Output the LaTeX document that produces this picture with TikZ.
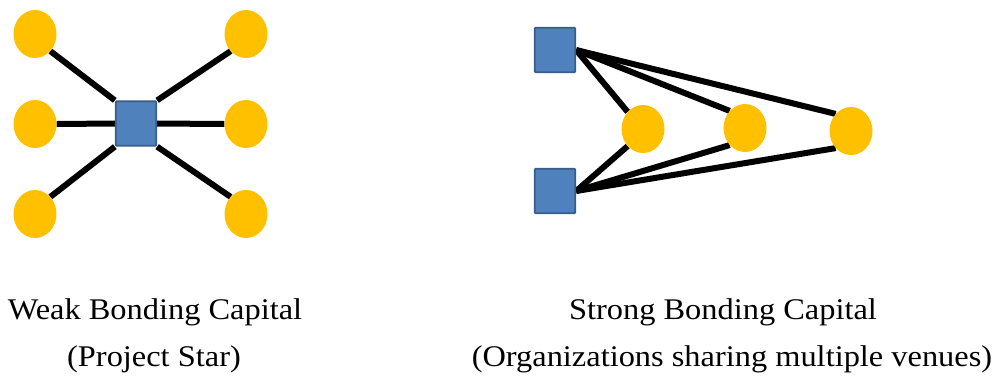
\documentclass[tikz,border=0pt]{standalone}
\usepackage{fontspec}
\setmainfont{Liberation Serif}
\usetikzlibrary{shapes.geometric,backgrounds}
\definecolor{gold}{HTML}{FFC000}
\definecolor{bluefill}{HTML}{4F81BD}
\definecolor{blueline}{HTML}{385D8A}
\tikzset{
  dot/.style={ellipse, fill=gold, draw=none, minimum width=43bp, minimum height=48bp, inner sep=0pt},
  sq/.style={rectangle, fill=bluefill, draw=blueline, line width=1.8bp, rounded corners=1bp, minimum width=40.5bp, minimum height=44.5bp, inner sep=0pt},
  link/.style={line width=6bp, black},
  lbl/.style={font=\fontsize{30bp}{34bp}\selectfont, inner sep=0pt, anchor=base}
}
\newcommand{\wide}[1]{\scalebox{1.08}[1]{#1}}
\begin{document}
\begin{tikzpicture}[x=1bp,y=-1bp]
\useasboundingbox (0,0) rectangle (1001,378);
% left star
\node[dot] (l1) at (35,34) {};
\node[dot] (l2) at (35,124) {};
\node[dot] (l3) at (35,214) {};
\node[dot] (r1) at (246,34) {};
\node[dot] (r2) at (246,124) {};
\node[dot] (r3) at (246,214) {};
\node[sq] (c) at (136,123.5) {};
% right
\node[dot] (a1) at (643,129) {};
\node[dot] (a2) at (745,128) {};
\node[dot] (a3) at (851,131) {};
\node[sq] (s1) at (555,50) {};
\node[sq] (s2) at (555,191) {};
% edges
\begin{scope}[on background layer]
\draw[link] (c.north west) -- (l1.south east);
\draw[link] (c.west) -- (l2.east);
\draw[link] (c.south west) -- (l3.north east);
\draw[link] (c.north east) -- (r1.south west);
\draw[link] (c.east) -- (r2.west);
\draw[link] (c.south east) -- (r3.north west);
\foreach \n in {a1,a2,a3} {
  \draw[link] (s1.east) -- (\n.north west);
  \draw[link] (s2.east) -- (\n.south west);
}
\end{scope}
% labels
\node[lbl] (t1) at (155,319) {\wide{Weak Bonding Capital}};
\node[lbl] (t2) at (154,366) {\wide{(Project Star)}};
\node[lbl] (t3) at (723,319) {\wide{Strong Bonding Capital}};
\node[lbl] (t4) at (732,366) {\wide{(Organizations sharing multiple venues)}};
\end{tikzpicture}
\end{document}
